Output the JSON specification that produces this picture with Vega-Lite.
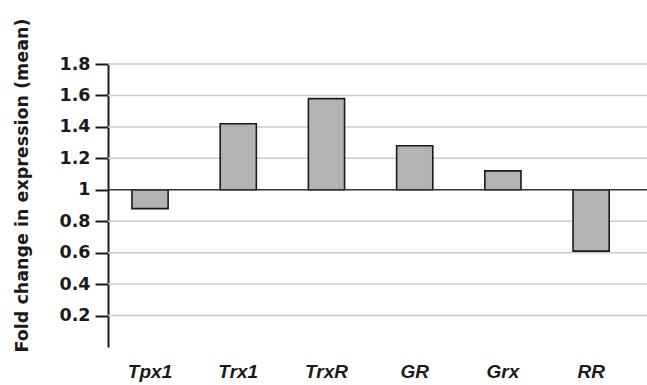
{
  "$schema": "https://vega.github.io/schema/vega-lite/v6.json",
  "autosize": "none",
  "padding": {"left": 108, "top": 64, "right": 0, "bottom": 38},
  "width": 539,
  "height": 283,
  "background": "white",
  "config": {"view": {"stroke": null}, "font": "Liberation Sans"},
  "datasets": {
    "genes": [
      {"gene": "Tpx1", "fold": 0.88},
      {"gene": "Trx1", "fold": 1.42},
      {"gene": "TrxR", "fold": 1.58},
      {"gene": "GR", "fold": 1.28},
      {"gene": "Grx", "fold": 1.12},
      {"gene": "RR", "fold": 0.61}
    ],
    "gridlines": [
      {"level": 0.2}, {"level": 0.4}, {"level": 0.6}, {"level": 0.8},
      {"level": 1.2}, {"level": 1.4}, {"level": 1.6}, {"level": 1.8}
    ],
    "baseline": [{"level": 1}]
  },
  "layer": [
    {
      "data": {"name": "gridlines"},
      "mark": {"type": "rule", "color": "#cccccc", "strokeWidth": 1.5},
      "encoding": {"y": {"field": "level", "type": "quantitative"}}
    },
    {
      "data": {"name": "genes"},
      "mark": {"type": "bar", "fill": "#b3b3b3", "stroke": "#1a1a1a", "strokeWidth": 1.6},
      "encoding": {
        "x": {
          "field": "gene", "type": "nominal", "sort": null,
          "scale": {"paddingInner": 0.59, "paddingOuter": 0.35, "align": 0.388},
          "axis": {
            "title": null, "domain": false, "ticks": false, "tickSize": 0,
            "labelAngle": 0, "labelFont": "Liberation Sans", "labelFontSize": 19,
            "labelFontWeight": "bold", "labelFontStyle": "italic", "labelColor": "#1a1a1a",
            "labelBaseline": "alphabetic", "labelPadding": 30, "labelOverlap": false
          }
        },
        "y": {
          "field": "fold", "type": "quantitative",
          "scale": {"domain": [0, 1.8], "nice": false, "zero": false},
          "axis": {
            "title": "Fold change in expression (mean)",
            "titleFont": "DejaVu Sans", "titleFontSize": 17.5, "titleFontWeight": "bold",
            "titleColor": "#1a1a1a", "titleX": -81, "titleY": 121, "titleBaseline": "alphabetic",
            "values": [0.2, 0.4, 0.6, 0.8, 1, 1.2, 1.4, 1.6, 1.8],
            "tickCount": 20,
            "format": "~g", "labelOverlap": false,
            "labelFont": "DejaVu Sans", "labelFontSize": 17.5, "labelFontWeight": "bold",
            "labelColor": "#1a1a1a", "labelPadding": 5,
            "tickSize": 13, "tickWidth": 2, "tickColor": "#1a1a1a",
            "domainColor": "#1a1a1a", "domainWidth": 2,
            "grid": false
          }
        },
        "y2": {"datum": 1}
      }
    },
    {
      "data": {"name": "baseline"},
      "mark": {"type": "rule", "color": "#333333", "strokeWidth": 1.5},
      "encoding": {"y": {"field": "level", "type": "quantitative"}}
    }
  ]
}
